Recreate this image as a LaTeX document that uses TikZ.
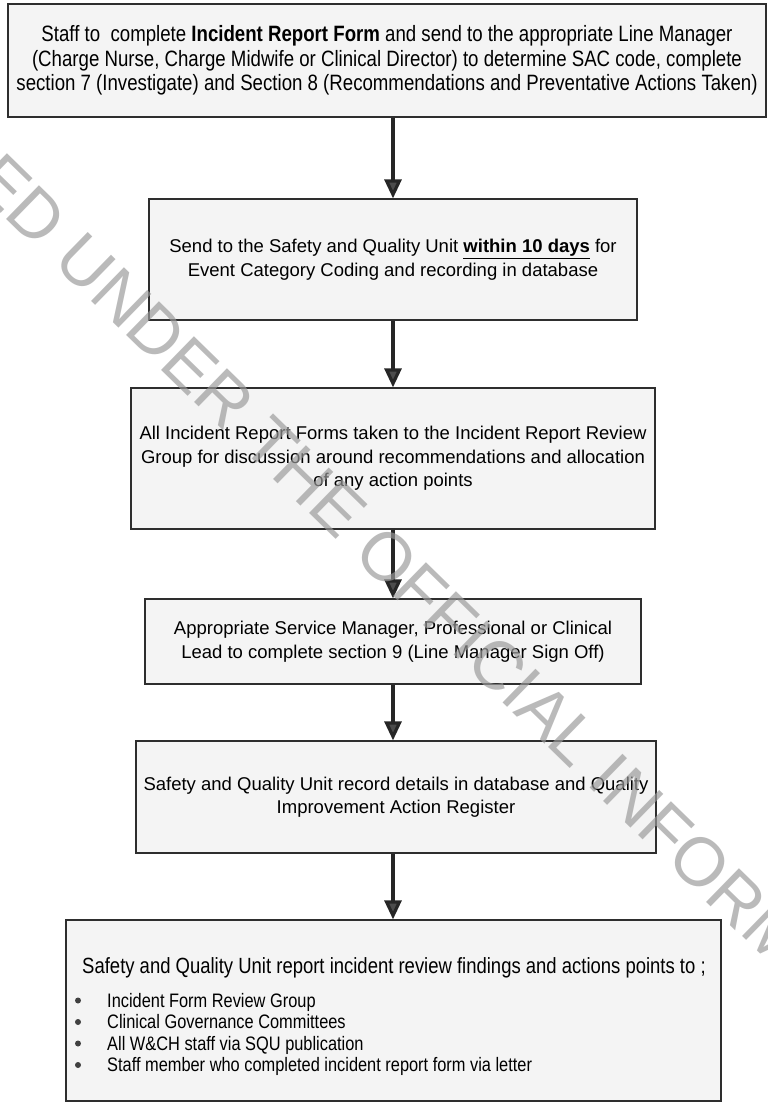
\documentclass[tikz,border=0pt]{standalone}
\usepackage{fontspec}
\setmainfont{Liberation Sans}
\newfontfamily\narrowfont[FakeStretch=0.84]{Liberation Sans}
\usetikzlibrary{arrows.meta}
\definecolor{boxfill}{HTML}{F4F4F4}
\definecolor{edge}{HTML}{2E2E2E}
\definecolor{wm}{HTML}{9A9A9A}
\begin{document}
\begin{tikzpicture}[x=1pt,y=-1pt,
  box/.style={draw=edge, line width=1.3pt, fill=boxfill, inner sep=0pt, align=center},
  reg/.style={font=\fontsize{18.5}{23.5}\selectfont},
  nar/.style={font=\narrowfont\fontsize{22.2}{24.5}\selectfont},
  flow/.style={line width=3.2pt, draw=black!85, -{Triangle[width=17pt,length=19pt,fill=black!70]}},
  dot/.style={circle, fill=black!75, inner sep=0pt, minimum size=6pt},
  item/.style={anchor=base west, inner sep=0pt, font=\narrowfont\fontsize{19.5}{23}\selectfont},
]
\useasboundingbox (0,0) rectangle (768,1104);
\fill[white] (0,0) rectangle (768,1104);

\node[box, nar, minimum width=758pt, minimum height=113pt] (b1) at (387,60.5)
  {Staff to\ \ complete \textbf{Incident Report Form} and send to the appropriate Line Manager\\
   (Charge Nurse, Charge Midwife or Clinical Director) to determine SAC code, complete\\
   section 7 (Investigate) and Section 8 (Recommendations and Preventative Actions Taken)};

\node[box, reg, minimum width=488pt, minimum height=121pt] (b2) at (393,259.5)
  {Send to the Safety and Quality Unit \underline{\textbf{within 10 days}} for\\
   Event Category Coding and recording in database};

\node[box, reg, minimum width=524pt, minimum height=141pt] (b3) at (393,458.5)
  {All Incident Report Forms taken to the Incident Report Review\\
   Group for discussion around recommendations and allocation\\
   of any action points};

\node[box, reg, minimum width=496pt, minimum height=85pt] (b4) at (393,641.5)
  {Appropriate Service Manager, Professional or Clinical\\
   Lead to complete section 9 (Line Manager Sign Off)};

\node[box, reg, minimum width=520pt, minimum height=112pt] (b5) at (396,797)
  {Safety and Quality Unit record details in database and Quality\\
   Improvement Action Register};

\node[box, minimum width=655pt, minimum height=181pt] (b6) at (393.5,1010.5) {};

\node[anchor=base, inner sep=0pt, font=\narrowfont\fontsize{22}{24}\selectfont] (h6) at (394,973)
  {Safety and Quality Unit report incident review findings and actions points to ;};

\node[item] (i1) at (107,1007) {Incident Form Review Group};
\node[item] (i2) at (107,1028.5) {Clinical Governance Committees};
\node[item] (i3) at (107,1050) {All W\&CH staff via SQU publication};
\node[item] (i4) at (107,1071.5) {Staff member who completed incident report form via letter};
\node[dot] (d1) at (78,1000.5) {};
\node[dot] (d2) at (78,1022) {};
\node[dot] (d3) at (78,1043.5) {};
\node[dot] (d4) at (78,1065) {};

\draw[flow] (b1.south -| b2.north) -- (b2.north);
\draw[flow] (b2.south) -- (b3.north);
\draw[flow] (b3.south) -- (b4.north);
\draw[flow] (b4.south) -- (b4.south |- b5.north);
\draw[flow] (b4.south |- b5.south) -- (b4.south |- b6.north);

\begin{scope}
  \clip (0,0) rectangle (768,1104);
  \node[anchor=base west, inner sep=0pt, rotate=-44.3, text=wm, opacity=0.68,
        font=\fontsize{68.5}{68.5}\selectfont] (wmark) at (-30,183)
    {ED UNDER THE OFFICIAL INFORM};
\end{scope}
\end{tikzpicture}
\end{document}
